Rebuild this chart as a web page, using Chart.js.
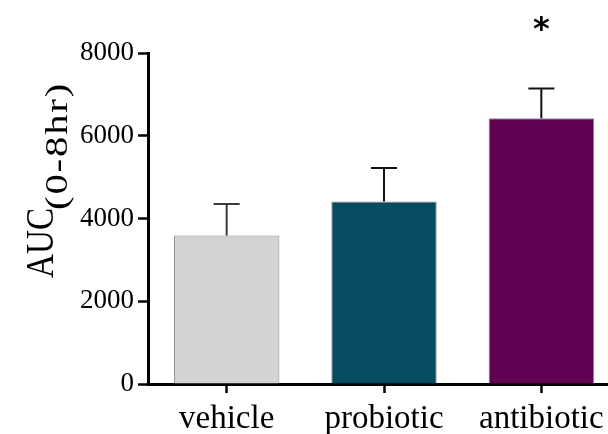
<!DOCTYPE html>
<html>
<head>
<meta charset="utf-8">
<script src="https://cdn.jsdelivr.net/npm/chart.js@4.4.1/dist/chart.umd.min.js"></script>
<style>
  html, body { margin: 0; padding: 0; background: #fff; overflow: hidden; }
  #wrap { width: 640px; height: 434px; }
</style>
</head>
<body>
<div id="wrap"><canvas id="c" width="640" height="434"></canvas></div>
<script>
// Groups and their mean AUC (0-8 hr) with the upper SEM whisker
const categories = ['vehicle', 'probiotic', 'antibiotic'];
const meanAUC = [3590, 4410, 6420];
const semAUC = [760, 810, 725];
const significance = ['', '', '*'];
const yTickValues = [0, 2000, 4000, 6000, 8000];
const yTickLabels = ['0', '2000', '4000', '6000', '8000'];

const barColors = ['#d3d3d3', '#064b5f', '#600050'];
const whiskerColors = ['#3a3a3a', '#111111', '#111111'];
const serif = '"Liberation Serif", "Times New Roman", serif';

// Upper-only error bars and significance marks
const errorBars = {
  id: 'errorBars',
  afterDatasetsDraw(chart) {
    const { ctx, scales: { y } } = chart;
    const meta = chart.getDatasetMeta(0);
    meta.data.forEach((bar, i) => {
      const x = bar.x;
      const yTop = y.getPixelForValue(meanAUC[i]);
      const yCap = y.getPixelForValue(meanAUC[i] + semAUC[i]);
      ctx.save();
      ctx.strokeStyle = whiskerColors[i];
      ctx.lineWidth = 2;
      ctx.beginPath();
      ctx.moveTo(x, yTop);
      ctx.lineTo(x, yCap);
      ctx.moveTo(x - 13, yCap);
      ctx.lineTo(x + 13, yCap);
      ctx.stroke();
      if (significance[i]) {
        ctx.fillStyle = '#000';
        ctx.font = 'bold 32px "DejaVu Sans"';
        ctx.textAlign = 'center';
        ctx.textBaseline = 'middle';
        ctx.fillText(significance[i], x, y.getPixelForValue(8000) - 22);
      }
      ctx.restore();
    });
  }
};

// Rotated axis title: "AUC" with a subscript "(0-8hr)"
const yTitle = {
  id: 'yTitle',
  afterDraw(chart) {
    const { ctx } = chart;
    ctx.save();
    ctx.fillStyle = '#000';
    ctx.textAlign = 'left';
    ctx.textBaseline = 'alphabetic';

    ctx.save();
    ctx.translate(53, 278);
    ctx.rotate(-Math.PI / 2);
    ctx.scale(0.85, 1);
    ctx.font = '39px ' + serif;
    ctx.fillText('AUC', 0, 0);
    ctx.restore();

    ctx.save();
    ctx.translate(67, 210);
    ctx.rotate(-Math.PI / 2);
    ctx.scale(1.2, 0.92);
    ctx.font = '34px ' + serif;
    ctx.letterSpacing = '1.5px';
    ctx.fillText('(0-8hr)', 0, 0);
    ctx.restore();

    ctx.restore();
  }
};

new Chart(document.getElementById('c'), {
  type: 'bar',
  data: {
    labels: categories,
    datasets: [{
      data: meanAUC,
      backgroundColor: barColors,
      borderColor: '#8a8a8a',
      borderWidth: 1,
      barPercentage: 0.67,
      categoryPercentage: 1
    }]
  },
  options: {
    responsive: false,
    devicePixelRatio: 1,
    animation: false,
    layout: { padding: { left: 0, top: 53, right: 20, bottom: 0 } },
    plugins: { legend: { display: false }, tooltip: { enabled: false } },
    scales: {
      x: {
        offset: true,
        grid: { display: true, drawOnChartArea: false, drawTicks: true, offset: false,
                tickLength: 9, tickWidth: 2.5, tickColor: '#000' },
        border: { display: true, color: '#000', width: 3 },
        ticks: { color: '#000', padding: 7, maxRotation: 0,
                 font: { family: serif, size: 33 } },
        afterFit(scale) { scale.height = 50; }
      },
      y: {
        min: 0, max: 8000,
        afterBuildTicks(scale) { scale.ticks = yTickValues.map(v => ({ value: v })); },
        grid: { display: true, drawOnChartArea: false, drawTicks: true,
                tickLength: 10, tickWidth: 2.5, tickColor: '#000' },
        border: { display: true, color: '#000', width: 3 },
        ticks: { color: '#000', padding: 4,
                 font: { family: serif, size: 27 },
                 callback(value) { return yTickLabels[yTickValues.indexOf(value)]; } },
        afterFit(scale) { scale.width = 148; }
      }
    }
  },
  plugins: [errorBars, yTitle]
});
</script>
</body>
</html>
